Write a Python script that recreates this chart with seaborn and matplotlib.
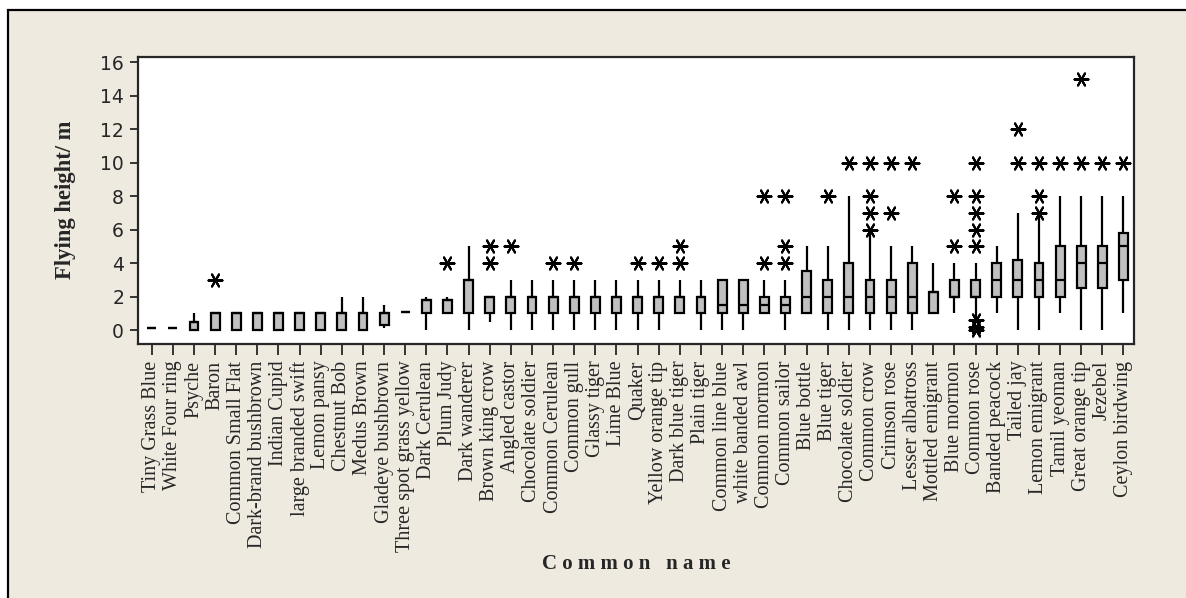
import numpy as np
import pandas as pd
import matplotlib
matplotlib.use("Agg")
import matplotlib.pyplot as plt
from matplotlib.patches import Rectangle
import seaborn as sns

# Species in plotting order (note: "Chocolate soldier" appears twice in the source)
species = ['Tiny Grass Blue', 'White Four ring', 'Psyche', 'Baron', 'Common Small Flat',
           'Dark-brand bushbrown', 'Indian Cupid', 'large branded swift', 'Lemon pansy',
           'Chestnut Bob', 'Medus Brown', 'Gladeye bushbrown', 'Three spot grass yellow',
           'Dark Cerulean', 'Plum Judy', 'Dark wanderer', 'Brown king crow', 'Angled castor',
           'Chocolate soldier', 'Common Cerulean', 'Common gull', 'Glassy tiger', 'Lime Blue',
           'Quaker', 'Yellow orange tip', 'Dark blue tiger', 'Plain tiger', 'Common line blue',
           'white banded awl', 'Common mormon', 'Common sailor', 'Blue bottle', 'Blue tiger',
           'Chocolate soldier', 'Common crow', 'Crimson rose', 'Lesser albatross',
           'Mottled emigrant', 'Blue mormon', 'Common rose', 'Banded peacock', 'Tailed jay',
           'Lemon emigrant', 'Tamil yeoman', 'Great orange tip', 'Jezebel', 'Ceylon birdwing']

# five-number summaries (m)
whisker_low = [0.1, 0.1, 0, 0, 0, 0, 0, 0, 0, 0, 0, 0.1, 1.1, 0, 1, 0, 0.5, 0, 0, 0, 0, 0, 0,
               0, 0, 1, 0, 0, 0, 1, 0, 1, 0, 0, 0, 0, 0, 1, 1, 0.7, 1, 0, 0, 1, 0, 0, 1]
q1 = [0.1, 0.1, 0, 0, 0, 0, 0, 0, 0, 0, 0, 0.3, 1.1, 1, 1, 1, 1, 1, 1, 1, 1, 1, 1,
      1, 1, 1, 1, 1, 1, 1, 1, 1, 1, 1, 1, 1, 1, 1, 2, 2, 2, 2, 2, 2, 2.5, 2.5, 3]
median = [0.1, 0.1, 0.5, 1, 1, 1, 1, 1, 1, 1, 1, 1, 1.1, 1.8, 1.8, 3, 2, 2, 2, 2, 2, 2, 2,
          2, 2, 2, 2, 1.5, 1.5, 1.5, 1.5, 2, 2, 2, 2, 2, 2, 2.3, 2, 2, 3, 3, 3, 3, 4, 4, 5]
q3 = [0.1, 0.1, 0.5, 1, 1, 1, 1, 1, 1, 1, 1, 1, 1.1, 1.8, 1.8, 3, 2, 2, 2, 2, 2, 2, 2,
      2, 2, 2, 2, 3, 3, 2, 2, 3.5, 3, 4, 3, 3, 4, 2.3, 3, 3, 4, 4.2, 4, 5, 5, 5, 5.8]
whisker_high = [0.1, 0.1, 1, 1, 1, 1, 1, 1, 1, 2, 2, 1.5, 1.1, 2, 2, 5, 2, 3, 3, 3, 3, 3, 3,
                3, 3, 3, 3, 3, 3, 3, 3, 5, 5, 8, 5.8, 5, 5, 4, 4, 4, 5, 7, 6.8, 8, 8, 8, 8]
outliers = [[], [], [], [3], [], [], [], [], [], [], [], [], [], [], [4], [], [4, 5], [5],
            [], [4], [4], [], [], [4], [4], [4, 5], [], [], [], [4, 8], [4, 5, 8], [], [8],
            [10], [6, 7, 8, 10], [7, 10], [10], [], [5, 8], [0, 0.2, 0.6, 5, 6, 7, 8, 10],
            [], [10, 12], [7, 8, 10], [10], [10, 15], [10], [10]]

BEIGE = '#EEEAE0'
slots = list(range(len(species)))

# long tables: one row per summary value / per outlier
box_df = pd.DataFrame({
    'slot': np.repeat(slots, 5),
    'height': np.column_stack([whisker_low, q1, median, q3, whisker_high]).ravel(),
})
out_df = pd.DataFrame([(i, v) for i in slots for v in outliers[i]],
                      columns=['slot', 'height'])

sns.set_style('ticks')
plt.rcParams['font.family'] = ['DejaVu Sans']

fig = plt.figure(figsize=(11.86, 5.98), dpi=100)
fig.patch.set_facecolor('white')
fig.add_artist(Rectangle((8 / 1186, -0.05), 1.2, 1.05 - 10 / 598,
                         transform=fig.transFigure, facecolor=BEIGE,
                         edgecolor='black', linewidth=1.6, zorder=-10))

ax = fig.add_axes([138 / 1186, 1 - 344 / 598, (1134 - 138) / 1186, (344 - 57) / 598])
ax.set_facecolor('white')

sns.boxplot(data=box_df, x='slot', y='height', order=slots, whis=(0, 100),
            width=0.42, color='#C0C0C0', saturation=1, linecolor='black',
            linewidth=1.6, showfliers=False, showcaps=False, ax=ax)
sns.stripplot(data=out_df, x='slot', y='height', order=slots, jitter=False,
              marker=(6, 2, 30), s=10, color='black', edgecolor='black',
              linewidth=1.5, ax=ax, zorder=5)

ax.set_xlim(-0.65, len(species) - 0.5)
ax.set_ylim(-0.83, 16.3)
ax.set_yticks(range(0, 17, 2))
ax.set_xticks(slots)
ax.set_xticklabels(species, rotation=90, family='Liberation Serif', fontsize=14.5)
ax.tick_params(axis='y', labelsize=13.5, length=6, width=1.3, pad=4)
ax.tick_params(axis='x', length=8, width=1.3, pad=4)
for sp in ax.spines.values():
    sp.set_linewidth(1.6)
    sp.set_visible(True)
ax.set_xlabel('')
ax.set_ylabel('')

fig.text(65 / 1186, 1 - 200 / 598, 'Flying height/ m', rotation=90, ha='center',
         va='center', family='Liberation Serif', fontweight='bold', fontsize=16.3)
fig.text(636 / 1186, 1 - 564 / 598, 'C o m m o n   n a m e', ha='center', va='center',
         family='Liberation Serif', fontweight='bold', fontsize=15)

fig.savefig('out.png', dpi=100, facecolor=fig.get_facecolor())
